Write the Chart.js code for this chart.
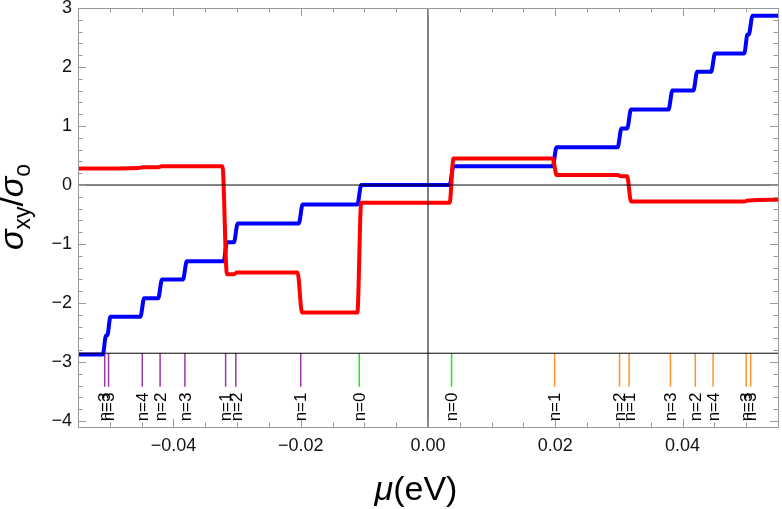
<!DOCTYPE html>
<html>
<head>
<meta charset="utf-8">
<script src="https://cdn.jsdelivr.net/npm/chart.js@4.4.1/dist/chart.umd.min.js"></script>
<style>
  body { margin: 0; background: #fff; }
  canvas { display: block; }
</style>
</head>
<body>
<canvas id="hall" width="782" height="509"></canvas>
<script>
// sigma_xy / sigma_o against mu (eV), corner points of the two staircases
const blueX = [-0.055, -0.0511, -0.0506, -0.0504, -0.0499, -0.0452, -0.0446, -0.0424, -0.0418, -0.0385, -0.0379,
  -0.0321, -0.0316, -0.0305, -0.0299, -0.0203, -0.0197, -0.0111, -0.0105, 0.0034, 0.0040, 0.0196, 0.0202,
  0.0298, 0.0304, 0.0313, 0.0319, 0.0378, 0.0384, 0.0417, 0.0423, 0.0445, 0.0451, 0.0497, 0.0502, 0.0504, 0.0510, 0.055];
const blueY = [-2.87, -2.87, -2.55, -2.55, -2.23, -2.23, -1.92, -1.92, -1.60, -1.60, -1.29,
  -1.29, -0.97, -0.97, -0.65, -0.65, -0.33, -0.33, 0, 0, 0.32, 0.32, 0.64,
  0.64, 0.96, 0.96, 1.28, 1.28, 1.60, 1.60, 1.92, 1.92, 2.23, 2.23, 2.55, 2.55, 2.87, 2.87];

const redX = [-0.055, -0.0455, -0.0448, -0.0424, -0.0418, -0.0323, -0.0316, -0.0305, -0.0300, -0.0205, -0.0198,
  -0.0111, -0.0105, 0.0034, 0.0040, 0.0196, 0.0202, 0.0298, 0.0303, 0.0313, 0.0319, 0.0497, 0.0503, 0.055];
const redY = [0.28, 0.29, 0.30, 0.30, 0.32, 0.32, -1.51, -1.51, -1.48, -1.48, -2.16,
  -2.16, -0.30, -0.30, 0.45, 0.45, 0.17, 0.17, 0.15, 0.15, -0.28, -0.28, -0.26, -0.25];

// Landau level markers
const purpleX = [-0.0508, -0.0502, -0.0449, -0.0421, -0.0382, -0.0318, -0.0302, -0.0200];
const purpleN = [3, 3, 4, 2, 3, 1, 2, 1];
const greenX = [-0.0108, 0.0037];
const greenN = [0, 0];
const orangeX = [0.0199, 0.0301, 0.0316, 0.0381, 0.0420, 0.0448, 0.0500, 0.0507];
const orangeN = [1, 2, 1, 3, 2, 4, 3, 3];

const baseLine = -2.85;
const markEnd = -3.42;
const labelMid = -3.76;

const xTicks = [-0.04, -0.02, 0, 0.02, 0.04];
const yTicks = [-4, -3, -2, -1, 0, 1, 2, 3];

const pts = (xs, ys) => xs.map((x, i) => ({ x: x, y: ys[i] }));
const marks = (xs) => xs.flatMap(x => [{ x: x, y: baseLine }, { x: x, y: markEnd }, { x: x, y: null }]);

const fam = '"Liberation Sans", Arial, sans-serif';
const minus = v => v < 0 ? '\u2212' + String(Math.abs(v)) : String(v);

const frame = {
  id: 'frame',
  afterDraw(chart) {
    const c = chart.ctx, a = chart.chartArea;
    const xs = chart.scales.x, ys = chart.scales.y;
    c.save();
    c.strokeStyle = '#999';
    c.lineWidth = 1;
    c.strokeRect(Math.round(a.left) + 0.5, Math.round(a.top) + 0.5, Math.round(a.right - a.left), Math.round(a.bottom - a.top));
    c.beginPath();
    for (let k = -11; k <= 11; k++) {
      const v = k * 0.005;
      const px = Math.round(xs.getPixelForValue(v)) + 0.5;
      const len = (k % 4 === 0) ? 8 : 4.5;
      if (px <= a.left + 1 || px >= a.right - 1) continue;
      c.moveTo(px, a.bottom); c.lineTo(px, a.bottom - len);
      c.moveTo(px, a.top); c.lineTo(px, a.top + len);
    }
    for (let k = -20; k <= 15; k++) {
      const v = k * 0.2;
      const py = Math.round(ys.getPixelForValue(v)) + 0.5;
      const len = (k % 5 === 0) ? 8 : 4.5;
      if (py <= a.top + 1 || py >= a.bottom - 1) continue;
      c.moveTo(a.left, py); c.lineTo(a.left + len, py);
      c.moveTo(a.right, py); c.lineTo(a.right - len, py);
    }
    c.stroke();

    // level labels, rotated
    c.fillStyle = '#000';
    c.font = '17px ' + fam;
    c.textAlign = 'center';
    c.textBaseline = 'middle';
    const groups = [[purpleX, purpleN], [greenX, greenN], [orangeX, orangeN]];
    const ly = ys.getPixelForValue(labelMid);
    groups.forEach(([gx, gn]) => gx.forEach((x, i) => {
      c.save();
      c.translate(xs.getPixelForValue(x) + 1, ly);
      c.rotate(-Math.PI / 2);
      c.fillText('n=' + gn[i], 0, 0);
      c.restore();
    }));

    // axis titles
    const big = 34, small = 23;
    const yParts = [['σ', 'italic ' + big + 'px ' + fam, 0], ['xy', small + 'px ' + fam, 7],
      ['/', big + 'px ' + fam, 0], ['σ', 'italic ' + big + 'px ' + fam, 0], ['o', small + 'px ' + fam, 7]];
    drawParts(c, yParts, 13, 207, true);
    const xParts = [['μ', 'italic ' + big + 'px ' + fam, 0], ['(eV)', big + 'px ' + fam, 0]];
    drawParts(c, xParts, 416, 490, false);
    c.restore();
  }
};

function drawParts(c, parts, cx, cy, vertical) {
  let w = 0;
  parts.forEach(p => { c.font = p[1]; w += c.measureText(p[0]).width; });
  c.save();
  c.translate(cx, cy);
  if (vertical) c.rotate(-Math.PI / 2);
  c.textAlign = 'left';
  c.textBaseline = 'alphabetic';
  let x = -w / 2;
  parts.forEach(p => {
    c.font = p[1];
    c.fillText(p[0], x, 10 + p[2]);
    x += c.measureText(p[0]).width;
  });
  c.restore();
}

const thin = (data, color) => ({
  data: data, borderColor: color, borderWidth: 1, pointRadius: 0, tension: 0, spanGaps: false
});

new Chart(document.getElementById('hall'), {
  type: 'line',
  data: {
    datasets: [
      thin([{ x: -0.055, y: 0 }, { x: 0.055, y: 0 }], '#000'),
      thin([{ x: 0, y: -4.1 }, { x: 0, y: 3 }], '#000'),
      thin([{ x: -0.055, y: baseLine }, { x: 0.055, y: baseLine }], '#000'),
      { data: pts(redX, redY), borderColor: '#ff0000', borderWidth: 4, pointRadius: 0,
        cubicInterpolationMode: 'monotone' },
      { data: pts(blueX, blueY), borderColor: '#0000ff', borderWidth: 4, pointRadius: 0,
        cubicInterpolationMode: 'monotone' },
      Object.assign(thin(marks(purpleX), '#9a3aa6'), { borderWidth: 1.5 }),
      Object.assign(thin(marks(greenX), '#1ee61e'), { borderWidth: 1.5 }),
      Object.assign(thin(marks(orangeX), '#ff9433'), { borderWidth: 1.5 })
    ]
  },
  options: {
    responsive: false,
    animation: false,
    layout: { padding: { top: 8, right: 4, left: 0, bottom: 0 } },
    plugins: { legend: { display: false }, tooltip: { enabled: false } },
    scales: {
      x: {
        type: 'linear', min: -0.055, max: 0.055,
        grid: { display: false, drawTicks: false }, border: { display: false },
        afterBuildTicks: s => { s.ticks = xTicks.map(v => ({ value: v })); },
        ticks: {
          font: { family: fam, size: 18 }, color: '#111', padding: 8, maxRotation: 0,
          callback: v => minus(Number(v).toFixed(2)).replace('\u2212-', '\u2212')
        },
        afterFit: s => { s.height = 82; s.paddingLeft = 0; s.paddingRight = 0; }
      },
      y: {
        type: 'linear', min: -4.1, max: 3,
        grid: { display: false, drawTicks: false }, border: { display: false },
        afterBuildTicks: s => { s.ticks = yTicks.map(v => ({ value: v })); },
        ticks: {
          font: { family: fam, size: 18 }, color: '#111', padding: 6,
          callback: v => minus(v)
        },
        afterFit: s => { s.width = 78; s.paddingTop = 0; s.paddingBottom = 0; }
      }
    }
  },
  plugins: [frame]
});
</script>
</body>
</html>
